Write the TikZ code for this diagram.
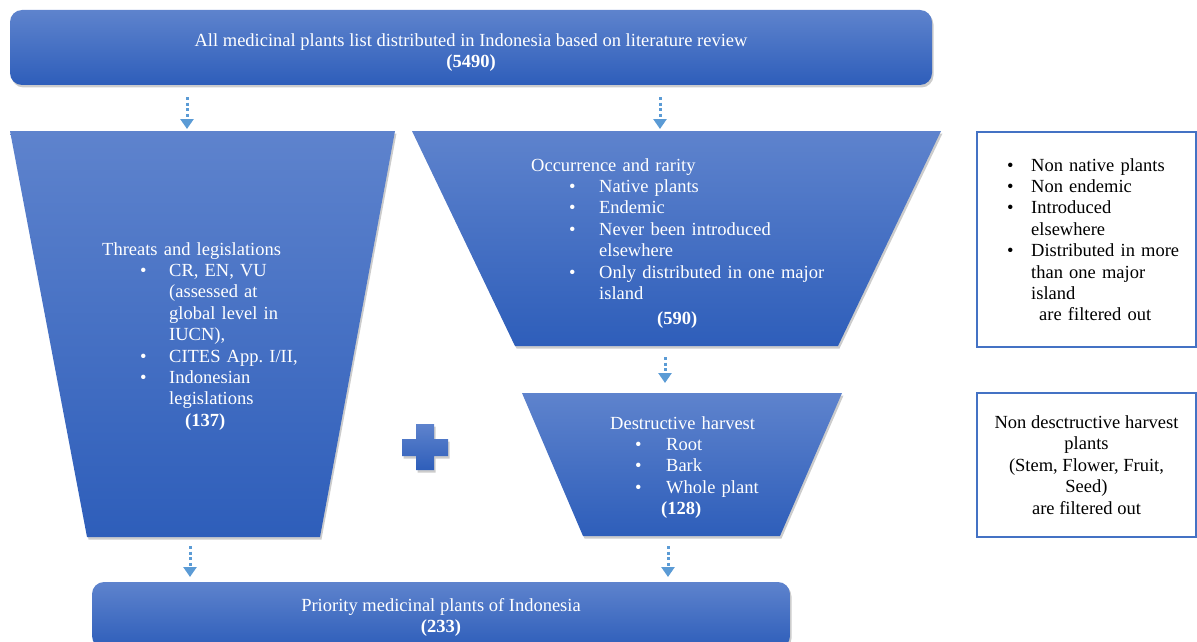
\documentclass[tikz,border=0pt]{standalone}
\usepackage{fontspec}
\setmainfont{Liberation Serif}
\usetikzlibrary{arrows.meta,shadows}
\definecolor{boxtop}{RGB}{94,131,205}
\definecolor{boxbot}{RGB}{46,94,186}
\definecolor{flowblue}{RGB}{91,155,213}
\definecolor{edgeblue}{RGB}{68,114,196}
% bullet line: bullet at #1, text at #2
\newcommand{\bitem}[3]{\hspace*{#1pt}\makebox[\dimexpr#2pt-#1pt\relax][l]{\textbullet}#3}
\newcommand{\tind}[2]{\hspace*{#1pt}#2}
\begin{document}
\begin{tikzpicture}[x=1pt, y=-1pt,
  font=\fontsize{18.5}{21.4}\selectfont,
  bluefill/.style={top color=boxtop, bottom color=boxbot,
    drop shadow={shadow xshift=1.5pt, shadow yshift=-2.5pt, opacity=0.4}},
  bluebox/.style={bluefill, rounded corners=12pt, text=white, align=center},
  funnel/.style={bluefill},
  intext/.style={text=white, anchor=base west, align=left, text width=320pt, inner sep=0pt},
  filterbox/.style={draw=edgeblue, line width=1.5pt, fill=white, inner sep=0pt},
  flow/.style={draw=flowblue, line width=3pt, dash pattern=on 3pt off 2.6pt,
    -{Triangle[width=13pt,length=10pt]}}]
  \useasboundingbox (0,0) rectangle (1197,642);

  % boxes at top and bottom
  \node[bluebox, minimum width=922pt, minimum height=75pt] (all) at (471,47.5)
    {\rule{0pt}{23pt}All medicinal plants list distributed in Indonesia based on literature review\\ \textbf{(5490)}};
  \node[bluebox, minimum width=698pt, minimum height=66pt] (prio) at (441,615)
    {\rule{0pt}{18pt}Priority medicinal plants of Indonesia\\ \textbf{(233)}};

  % funnels
  \path[funnel] (10,131) -- (395,131) -- (320,537) -- (87,537) -- cycle;
  \path[funnel] (412,131) -- (941,131) -- (838,346) -- (515,346) -- cycle;
  \path[funnel] (522,393) -- (842,393) -- (780,536) -- (583,536) -- cycle;

  % plus sign
  \path[funnel] (416,424) -- (434,424) -- (434,439) -- (448,439) -- (448,456) -- (434,456)
    -- (434,470) -- (416,470) -- (416,456) -- (402,456) -- (402,439) -- (416,439) -- cycle;

  \node[intext] (threat) at (102,255) {Threats and legislations\\
    \bitem{38}{67}{CR, EN, VU}\\
    \tind{67}{(assessed at}\\
    \tind{67}{global level in}\\
    \tind{67}{IUCN),}\\
    \bitem{38}{67}{CITES App.\ I/II,}\\
    \bitem{38}{67}{Indonesian}\\
    \tind{67}{legislations}\\
    \tind{83}{\textbf{(137)}}};
  \node[intext] (occur) at (531,171) {Occurrence and rarity\\
    \bitem{38}{68}{Native plants}\\
    \bitem{38}{68}{Endemic}\\
    \bitem{38}{68}{Never been introduced}\\
    \tind{68}{elsewhere}\\
    \bitem{38}{68}{Only distributed in one major}\\
    \tind{68}{island}\\[3.5pt]
    \tind{126}{\textbf{(590)}}};
  \node[intext] (harv) at (610,429) {Destructive harvest\\
    \bitem{25}{56}{Root}\\
    \bitem{25}{56}{Bark}\\
    \bitem{25}{56}{Whole plant}\\
    \tind{51}{\textbf{(128)}}};

  % filtered out
  \node[filterbox, minimum width=219pt, minimum height=215pt] (filt1) at (1086.5,239.5) {};
  \node[anchor=base west, align=left, text width=180pt, inner sep=0pt] (filt1txt) at (1007,171)
    {\bitem{0}{24}{Non native plants}\\
    \bitem{0}{24}{Non endemic}\\
    \bitem{0}{24}{Introduced}\\
    \tind{24}{elsewhere}\\
    \bitem{0}{24}{Distributed in more}\\
    \tind{24}{than one major}\\
    \tind{24}{island}\\
    \tind{32}{are filtered out}};
  \node[filterbox, minimum width=219pt, minimum height=144pt, align=center] (filt2) at (1086.5,465)
    {Non desctructive harvest\\ plants\\ (Stem, Flower, Fruit,\\ Seed)\\ are filtered out};

  % arrows
  \coordinate (a1s) at (187,97);  \coordinate (a1e) at (187,129);
  \coordinate (a2s) at (660,97);  \coordinate (a2e) at (660,129);
  \coordinate (a3s) at (665,357); \coordinate (a3e) at (665,383);
  \coordinate (a4s) at (190,546); \coordinate (a4e) at (190,577);
  \coordinate (a5s) at (668,546); \coordinate (a5e) at (668,577);
  \draw[flow] (a1s) -- (a1e);
  \draw[flow] (a2s) -- (a2e);
  \draw[flow] (a3s) -- (a3e);
  \draw[flow] (a4s) -- (a4e);
  \draw[flow] (a5s) -- (a5e);
\end{tikzpicture}
\end{document}
